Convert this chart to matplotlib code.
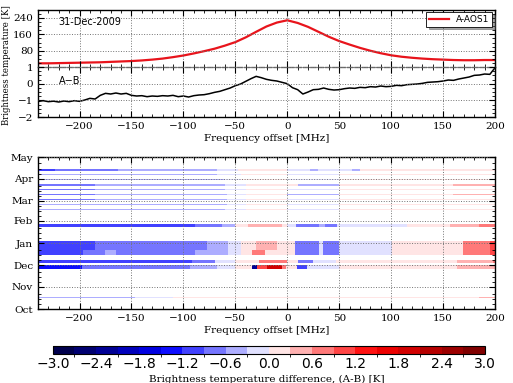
import numpy as np
import matplotlib
matplotlib.use("Agg")
import matplotlib.pyplot as plt
import matplotlib.dates as mdates
from matplotlib.colors import BoundaryNorm
from matplotlib.ticker import MultipleLocator
from datetime import datetime, timedelta

# ---------------- data ----------------
# Top panel: A-AOS1 spectrum (K) on a 10 MHz grid
freq_red = list(range(-240, 201, 10))
tb_red = [19, 19, 20, 21, 22, 23, 24, 26, 28, 30, 33, 37, 42, 49, 57, 67, 78, 90,
          105, 122, 145, 172, 198, 217, 228, 215, 196, 172, 148, 127, 110, 94, 80,
          68, 58, 51, 46, 42, 39, 37, 35, 34, 34, 35, 35]

# Top panel: A-B difference (K) on a 5 MHz grid
freq_diff = list(range(-240, 201, 5))
tb_diff = [-1.07, -1.02, -1.08, -1.05, -1.10, -1.04, -1.08, -1.02, -1.06, -0.98,
           -0.88, -0.92, -0.70, -0.58, -0.62, -0.56, -0.62, -0.58, -0.70, -0.74,
           -0.72, -0.78, -0.74, -0.76, -0.72, -0.74, -0.70, -0.78, -0.74, -0.80,
           -0.72, -0.68, -0.66, -0.60, -0.52, -0.46, -0.36, -0.26, -0.12, -0.02,
           0.14, 0.30, 0.44, 0.36, 0.26, 0.20, 0.16, 0.08, 0.00, -0.24,
           -0.36, -0.62, -0.50, -0.36, -0.34, -0.26, -0.34, -0.38, -0.36, -0.30,
           -0.26, -0.28, -0.22, -0.24, -0.18, -0.20, -0.14, -0.18, -0.16, -0.10,
           -0.12, -0.06, -0.04, -0.02, 0.02, 0.08, 0.10, 0.12, 0.16, 0.22,
           0.20, 0.28, 0.34, 0.40, 0.50, 0.52, 0.58, 0.56, 0.96]

# Bottom panel: observation rows (start date, duration in days) and
# piecewise-constant A-B values: segment right edges (MHz) and values (K)
row_start = ["2010-04-12", "2010-04-06", "2010-03-30", "2010-03-22", "2010-03-16",
             "2010-03-09", "2010-03-02", "2010-02-23", "2010-02-16", "2010-01-23",
             "2009-12-22", "2009-12-15", "2009-12-04", "2009-11-26", "2009-10-16"]
row_days = [2, 2, 2, 2, 2, 2, 2, 2, 2, 4, 13, 7, 4, 5, 2]
row_edges = [
    [-224, -163, -68, -47, -30, 0, 22, 30, 40, 62, 70, 150, 200],
    [-68, -45, 0, 50, 160, 200],
    [-180, -60, -45, 0, 50, 160, 200],
    [-185, -60, -40, 0, 10, 50, 160, 200],
    [-185, -60, -40, 0, 50, 160, 200],
    [-185, -58, -40, 0, 50, 160, 200],
    [-185, -58, -40, 0, 50, 160, 200],
    [-185, -58, -40, 0, 50, 160, 200],
    [-60, -40, 0, 50, 200],
    [-195, -89, -63, -50, -38, -12, -5, 0, 8, 31, 36, 48, 115, 157, 185, 200],
    [-185, -77, -57, -45, -30, -10, 7, 31, 34, 50, 101, 166, 169, 195, 200],
    [-197, -175, -165, -89, -57, -45, -34, -21, 7, 31, 34, 50, 101, 166, 169, 195, 200],
    [-92, -70, -50, -27, 0, 10, 25, 47, 163, 198, 200],
    [-198, -94, -68, -50, -34, -29, -20, -5, -1, 9, 19, 50, 163, 200],
    [-176, -147, -110, 50, 185, 200],
]
row_values = [
    [-1.1, -0.8, -0.5, -0.2, 0.05, 0.15, -0.1, -0.45, -0.2, -0.05, -0.45, 0.0, 0.15],
    [-0.5, -0.2, 0.1, -0.15, 0.0, 0.2],
    [-0.55, -0.45, -0.15, 0.12, -0.2, 0.02, 0.25],
    [-0.65, -0.45, -0.1, 0.15, 0.0, -0.35, 0.0, 0.3],
    [-0.65, -0.45, -0.1, 0.12, -0.3, 0.0, 0.25],
    [-0.62, -0.42, -0.1, 0.15, -0.32, 0.02, 0.3],
    [-0.62, -0.42, -0.1, 0.12, -0.28, 0.0, 0.25],
    [-0.6, -0.4, -0.1, 0.1, -0.2, 0.0, 0.2],
    [-0.45, -0.1, 0.08, -0.15, 0.0],
    [-1.15, -0.95, -0.75, -0.45, 0.1, 0.55, 0.4, 0.1, -0.2, -0.9, -0.5, -0.75, -0.15, 0.1, 0.4, 0.6],
    [-1.1, -0.8, -0.5, -0.1, 0.2, 0.35, 0.1, -0.8, -0.3, -0.7, -0.15, 0.2, 0.05, 0.65, 0.95],
    [-1.1, -0.8, -0.6, -0.8, -0.5, -0.1, 0.2, 0.7, 0.15, -0.8, -0.3, -0.7, -0.15, 0.2, 0.05, 0.7, 1.0],
    [-1.0, -0.65, -0.2, 0.1, 0.8, 0.0, -0.75, -0.3, 0.05, 0.45, 0.6],
    [-1.25, -0.85, -0.5, -0.2, 0.25, -2.2, 0.9, 1.8, 0.6, 0.2, -1.0, -0.2, 0.0, 0.5],
    [-0.6, -0.4, -0.15, 0.0, 0.2, 0.3],
]

cbar_ticks = [-3.0, -2.4, -1.8, -1.2, -0.6, 0.0, 0.6, 1.2, 1.8, 2.4, 3.0]
levels = np.arange(-3.0, 3.0001, 0.3)

# ---------------- figure ----------------
fig = plt.figure(figsize=(5.13, 3.83), dpi=100)
serif = "DejaVu Serif"
tick_fs = 7.5

L, W = 0.074, 0.891
ax_u = fig.add_axes([L, 0.825, W, 0.150])
ax_l = fig.add_axes([L, 0.6945, W, 0.1305], sharex=ax_u)
ax_h = fig.add_axes([L, 0.193, W, 0.397])
cax = fig.add_axes([0.103, 0.075, 0.842, 0.0225])

for ax in (ax_u, ax_l, ax_h):
    ax.tick_params(which="both", direction="in", top=True, right=True,
                   labelsize=tick_fs)
    ax.tick_params(which="major", length=4, width=0.8)
    ax.tick_params(which="minor", length=2, width=0.6)
    for s in ax.spines.values():
        s.set_linewidth(1.0)
    ax.grid(True, which="major", linestyle=":", color="0.45", linewidth=0.7)
    ax.set_axisbelow(False)

# upper part
ax_u.plot(freq_red, tb_red, color="#e8141c", lw=1.6, label="A-AOS1")
ax_u.set_ylim(1, 280)
ax_u.set_yticks([80, 160, 240])
ax_u.yaxis.set_minor_locator(MultipleLocator(20))
ax_u.set_xlim(-240, 200)
ax_u.xaxis.set_major_locator(MultipleLocator(50))
ax_u.xaxis.set_minor_locator(MultipleLocator(10))
ax_u.tick_params(labelbottom=False)
ax_u.spines["bottom"].set_visible(False)
ax_u.text(0.045, 0.87, "31-Dec-2009", transform=ax_u.transAxes, fontsize=7,
          va="top", ha="left")
leg = ax_u.legend(loc="upper right", fontsize=6.5, frameon=True, shadow=True,
                  fancybox=False, borderpad=0.3, handlelength=2.2,
                  borderaxespad=0.3)
leg.get_frame().set_edgecolor("black")
leg.get_frame().set_linewidth(0.6)

# lower part
ax_l.plot(freq_diff, tb_diff, color="black", lw=1.1)
ax_l.set_ylim(-2, 1)
ax_l.set_yticks([-2, -1, 0, 1])
ax_l.yaxis.set_minor_locator(MultipleLocator(0.25))
ax_l.spines["top"].set_color("0.4")
ax_l.spines["top"].set_linestyle("--")
ax_l.axhline(1, color="0.6", lw=1.2, zorder=1)
ax_l.text(0.045, 0.62, "A\u2212B", transform=ax_l.transAxes, fontsize=7,
          va="bottom", ha="left")
ax_l.set_xlabel("Frequency offset [MHz]", family=serif, fontsize=7.5, labelpad=2)

fig.text(0.013, 0.83, "Brightness temperature [K]", rotation=90,
         family=serif, fontsize=6.2, va="center", ha="center")

# heatmap
cmap = plt.get_cmap("seismic")
norm = BoundaryNorm(levels, cmap.N)
fedges = np.arange(-240, 201, 1)
fcent = 0.5 * (fedges[:-1] + fedges[1:])
mesh = None
for start, days, edges, vals in zip(row_start, row_days, row_edges, row_values):
    d0 = datetime.strptime(start, "%Y-%m-%d")
    d1 = d0 + timedelta(days=days)
    idx = np.searchsorted(np.array(edges), fcent, side="left")
    idx = np.clip(idx, 0, len(vals) - 1)
    z = np.array(vals)[idx]
    y = mdates.date2num([d0, d1])
    mesh = ax_h.pcolormesh(fedges, y, z[None, :], cmap=cmap, norm=norm,
                           shading="flat", rasterized=True)

ax_h.set_xlim(-240, 200)
ax_h.xaxis.set_major_locator(MultipleLocator(50))
ax_h.xaxis.set_minor_locator(MultipleLocator(10))
ax_h.set_ylim(mdates.date2num(datetime(2009, 10, 1)),
              mdates.date2num(datetime(2010, 5, 1)))
ax_h.yaxis.set_major_locator(mdates.MonthLocator())
ax_h.yaxis.set_major_formatter(mdates.DateFormatter("%b"))
ax_h.yaxis.set_minor_locator(mdates.DayLocator(bymonthday=[8, 15, 22]))
ax_h.set_xlabel("Frequency offset [MHz]", family=serif, fontsize=7.5, labelpad=2)

for ax in (ax_u, ax_l, ax_h):
    for lab in ax.get_xticklabels() + ax.get_yticklabels():
        lab.set_family(serif)
        lab.set_fontsize(tick_fs)

# colorbar
cb = fig.colorbar(mesh, cax=cax, orientation="horizontal", ticks=cbar_ticks,
                  boundaries=levels)
cb.outline.set_linewidth(0.8)
cb.ax.tick_params(labelsize=10, length=0, pad=2)
cb.ax.set_xticklabels([f"{t:.1f}".replace("-", "\u2212") for t in cbar_ticks])
fig.text(0.52, 0.022, "Brightness temperature difference, (A-B) [K]",
         family=serif, fontsize=7.5, ha="center", va="top")

fig.savefig("out.png", dpi=100)
